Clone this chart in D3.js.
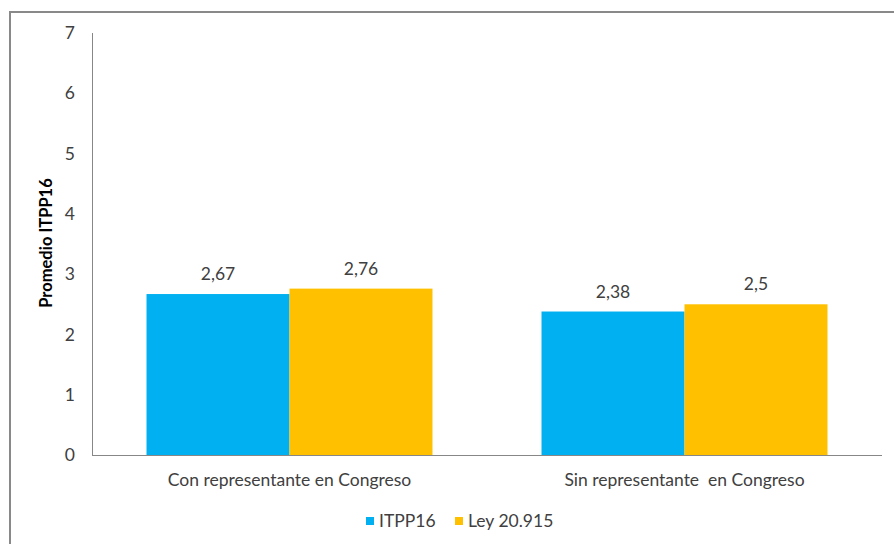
<!DOCTYPE html>
<html>
<head>
<meta charset="utf-8">
<script src="https://cdn.jsdelivr.net/npm/d3@7"></script>
<style>
  body { margin: 0; background: #fff; }
  text { font-family: Lato, "Open Sans", sans-serif; fill: #404040; }
</style>
</head>
<body>
<script>
const categories = ["Con representante en Congreso", "Sin representante  en Congreso"];
const series = ["ITPP16", "Ley 20.915"];
const itpp16 = [2.67, 2.38];
const ley = [2.76, 2.5];
const labels = [["2,67", "2,76"], ["2,38", "2,5"]];
const yTicks = [0, 1, 2, 3, 4, 5, 6, 7];
const colors = ["#00b0f0", "#ffc000"];

const w = 894;
const h = 544;
const fs = "17.5px";

const svg = d3.select("body")
              .append("svg")
              .attr("width", w)
              .attr("height", h);

// chart frame
svg.append("rect")
   .attr("x", 10)
   .attr("y", 12)
   .attr("width", 900)
   .attr("height", 560)
   .attr("fill", "none")
   .attr("stroke", "#898989")
   .attr("stroke-width", 2);

const x0 = d3.scaleBand()
             .domain(categories)
             .range([92, 882])
             .paddingInner(0.276)
             .paddingOuter(0.138);

const x1 = d3.scaleBand()
             .domain(series)
             .range([0, x0.bandwidth()]);

const yScale = d3.scaleLinear()
                 .domain([0, 7])
                 .range([455, 33]);

// y tick labels
svg.append("g")
   .selectAll("text")
   .data(yTicks)
   .enter()
   .append("text")
   .attr("x", 75)
   .attr("y", d => yScale(d))
   .attr("dy", "0.35em")
   .attr("text-anchor", "end")
   .attr("font-size", fs)
   .text(d => d);

// y title
svg.append("text")
   .attr("transform", `translate(52, 243) rotate(-90)`)
   .attr("text-anchor", "middle")
   .attr("font-size", "16.5px")
   .attr("font-weight", "bold")
   .style("fill", "#000")
   .text("Promedio ITPP16");

// bars
const rows = categories.map((c, i) => ({ cat: c, values: [itpp16[i], ley[i]], labels: labels[i] }));

const group = svg.selectAll(".group")
                 .data(rows)
                 .enter()
                 .append("g")
                 .attr("class", "group")
                 .attr("transform", d => `translate(${x0(d.cat)}, 0)`);

group.selectAll("rect")
     .data(d => d.values.map((v, j) => ({ s: series[j], v: v, j: j })))
     .enter()
     .append("rect")
     .attr("x", d => x1(d.s))
     .attr("y", d => yScale(d.v))
     .attr("width", x1.bandwidth())
     .attr("height", d => yScale(0) - yScale(d.v))
     .attr("fill", d => colors[d.j]);

group.selectAll(".val")
     .data(d => d.values.map((v, j) => ({ s: series[j], v: v, label: d.labels[j] })))
     .enter()
     .append("text")
     .attr("class", "val")
     .attr("x", d => x1(d.s) + x1.bandwidth() / 2)
     .attr("y", d => yScale(d.v) - 14)
     .attr("text-anchor", "middle")
     .attr("font-size", fs)
     .text(d => d.label);

// axes lines
svg.append("line")
   .attr("x1", 92.5).attr("x2", 92.5)
   .attr("y1", yScale(7)).attr("y2", yScale(0))
   .attr("stroke", "#878787");

svg.append("line")
   .attr("x1", 92).attr("x2", 882)
   .attr("y1", yScale(0) + 0.5).attr("y2", yScale(0) + 0.5)
   .attr("stroke", "#878787");

// category labels
svg.append("g")
   .selectAll("text")
   .data(categories)
   .enter()
   .append("text")
   .attr("x", d => x0(d) + x0.bandwidth() / 2)
   .attr("y", 486)
   .attr("text-anchor", "middle")
   .attr("font-size", fs)
   .style("white-space", "pre")
   .text(d => d);

// legend
const legendX = [366, 455];
const legend = svg.append("g").attr("id", "legend");

const item = legend.selectAll("g")
                   .data(series)
                   .enter()
                   .append("g")
                   .attr("transform", (d, i) => `translate(${legendX[i]}, 517)`);

item.append("rect")
    .attr("width", 8)
    .attr("height", 8)
    .attr("fill", (d, i) => colors[i]);

item.append("text")
    .attr("x", 13)
    .attr("y", 4)
    .attr("dy", "0.35em")
    .attr("font-size", fs)
    .text(d => d);
</script>
</body>
</html>
